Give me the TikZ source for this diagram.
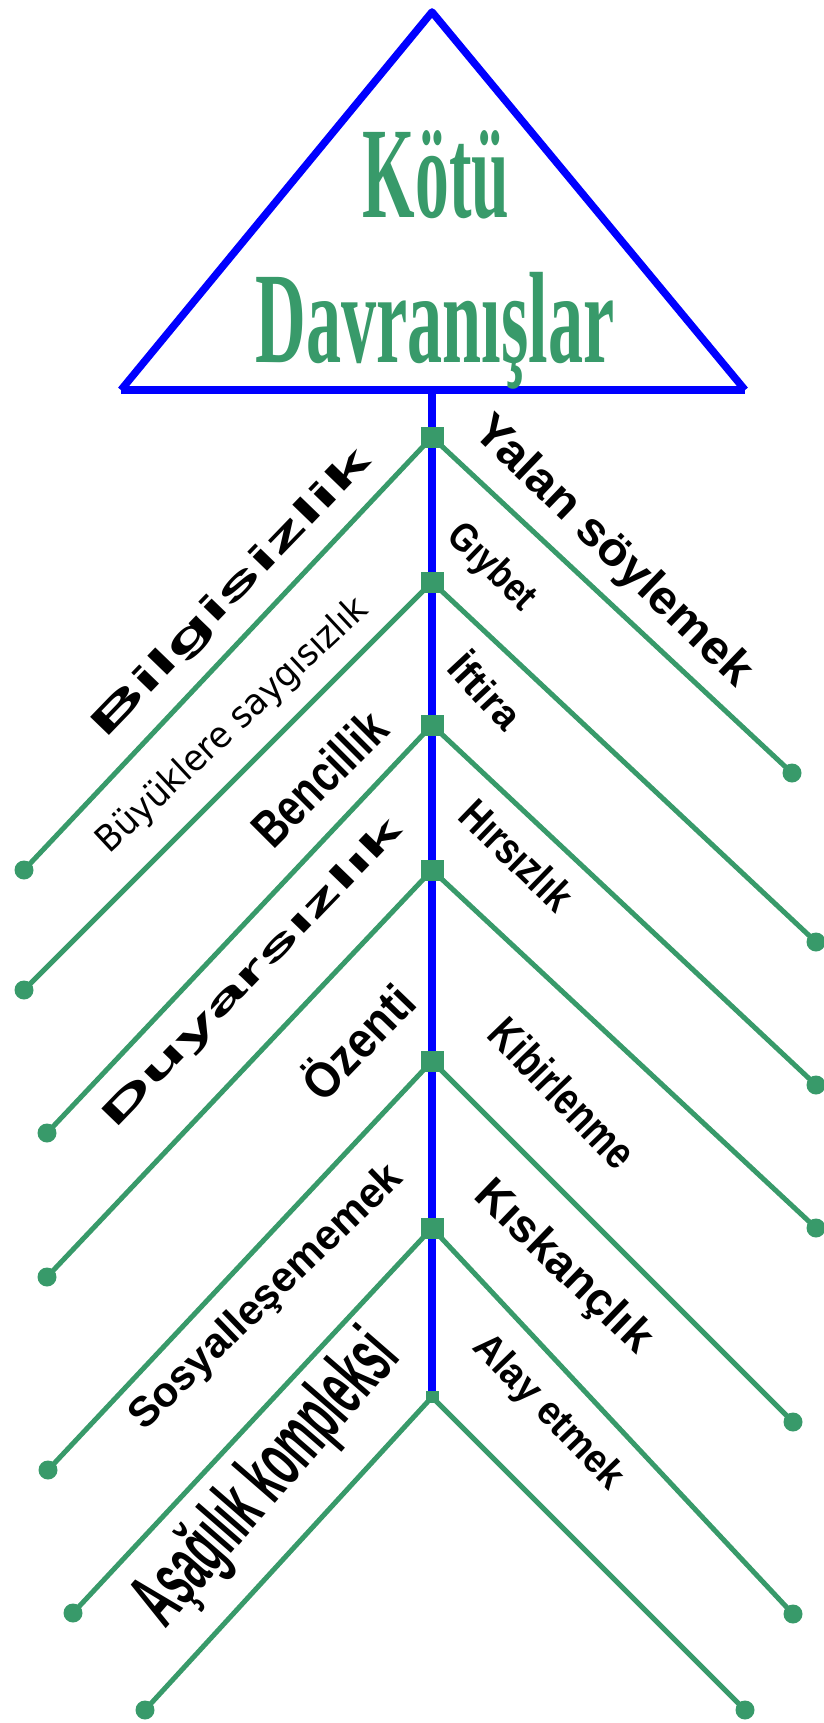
\documentclass[tikz,border=0pt]{standalone}
\usepackage{fontspec}
\setmainfont{Liberation Serif}
\setsansfont{Liberation Sans}
\newfontfamily\dejavu{DejaVu Sans}
\usepackage{graphicx}
\usetikzlibrary{positioning}
\definecolor{leafgreen}{RGB}{56,154,106}
\definecolor{spineblue}{RGB}{0,0,255}
\newcommand{\squeeze}[2]{\scalebox{#1}[1]{#2}}

\begin{document}
\begin{tikzpicture}[
    x=1pt, y=-1pt,
    every node/.style={inner sep=0pt, text=black},
    title/.style={font=\rmfamily\bfseries\fontsize{130}{130}\selectfont, text=leafgreen, anchor=base},
    joint/.style={rectangle, fill=leafgreen, minimum width=23pt, minimum height=21pt},
    tip/.style={circle, fill=leafgreen, minimum size=19pt},
    branch/.style={draw=leafgreen, line width=5pt},
    spine/.style={draw=spineblue, line width=7.5pt},
    upword/.style={rotate=46},
    downword/.style={rotate=-44},
    bold/.style={font=\sffamily\bfseries\fontsize{#1}{#1}\selectfont},
    thin/.style={font=\dejavu\fontsize{#1}{#1}\selectfont},
]
\useasboundingbox (0,0) rectangle (824,1723);

% Triangle head
\coordinate (apex) at (432,12);
\coordinate (baseL) at (121,390);
\coordinate (baseR) at (745,390);
\draw[spine, line join=round] (baseL) -- (apex) -- (baseR);
\draw[spine] (baseL) -- (baseR);
\node[title] (kotu) at (436,218) {\squeeze{0.52}{Kötü}};
\node[title] (davr) at (435,362) {\squeeze{0.54}{Davranışlar}};

% Spine and joints
\coordinate (neck) at (432,390);
\coordinate (foot) at (432,1397);
\draw[spine] (neck) -- (foot);
\node[joint] (j1) at (432,437) {};
\node[joint] (j2) at (432,582) {};
\node[joint] (j3) at (432,725) {};
\node[joint] (j4) at (432,870) {};
\node[joint] (j5) at (432,1061) {};
\node[joint] (j6) at (432,1228) {};
\node[joint, minimum width=13pt, minimum height=12pt] (j7) at (foot) {};

% Branch ends
\node[tip] (a1) at (24,870) {};
\node[tip] (a2) at (24,990) {};
\node[tip] (a3) at (47,1133) {};
\node[tip] (a4) at (47,1277) {};
\node[tip] (a5) at (48,1470) {};
\node[tip] (a6) at (73,1613) {};
\node[tip] (a7) at (145,1710) {};
\node[tip] (b1) at (792,773) {};
\node[tip] (b2) at (816,942) {};
\node[tip] (b3) at (816,1085) {};
\node[tip] (b4) at (816,1228) {};
\node[tip] (b5) at (793,1422) {};
\node[tip] (b6) at (793,1614) {};
\node[tip] (b7) at (745,1710) {};

\foreach \i in {1,...,7}{
  \draw[branch] (j\i.center) -- (a\i.center);
  \draw[branch] (j\i.center) -- (b\i.center);
}

% Left words
\node[upword, bold=38] (bilgi) at (232,594) {\squeeze{2.2}{Bilgisizlik}};
\node[upword, rotate=-3, thin=36] (saygi) at (233,726) {\squeeze{0.95}{Büyüklere saygısızlık}};
\node[upword, rotate=-1, bold=52] (benc) at (319,778) {\squeeze{0.78}{Bencillik}};
\node[upword, bold=35] (duyar) at (253,974) {\squeeze{2.25}{Duyarsızlık}};
\node[upword, bold=50] (ozen) at (356,1040) {\squeeze{0.9}{Özenti}};
\node[upword, rotate=-2, bold=42] (sosyal) at (267,1298) {Sosyalleşememek};
\node[upword, rotate=3, bold=80] (asagi) at (268,1480) {\squeeze{0.5}{Aşağılık kompleksi}};

% Right words
\node[downword, bold=47] (yalan) at (612,552) {\squeeze{1.05}{Yalan söylemek}};
\node[downword, bold=40] (giybet) at (491,568) {\squeeze{0.85}{Gıybet}};
\node[downword, rotate=-3, bold=40] (iftira) at (487,690) {İftira};
\node[downword, bold=44] (hirsiz) at (517,855) {\squeeze{0.82}{Hırsızlık}};
\node[downword, rotate=-2, bold=46] (kibir) at (563,1093) {\squeeze{0.79}{Kibirlenme}};
\node[downword, bold=46] (kiskan) at (563,1268) {Kıskançlık};
\node[downword, rotate=-2, bold=40] (alay) at (548,1413) {\squeeze{0.94}{Alay etmek}};

\end{tikzpicture}
\end{document}
